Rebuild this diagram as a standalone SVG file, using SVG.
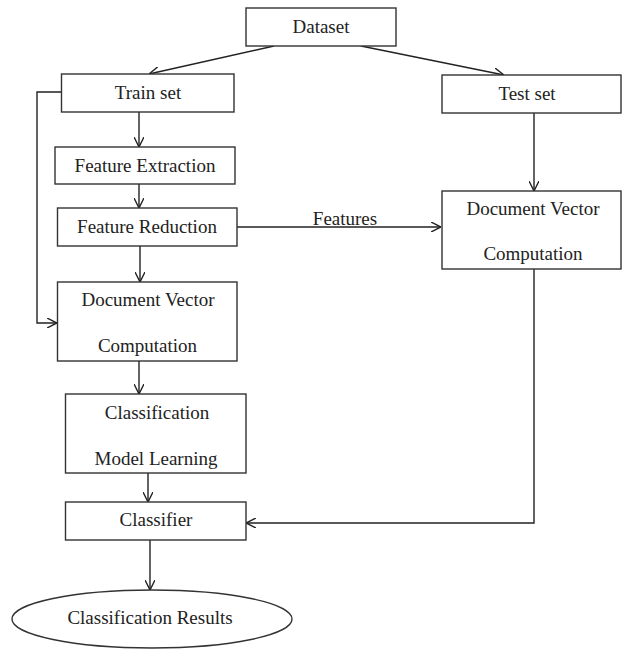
<svg xmlns="http://www.w3.org/2000/svg" width="622" height="650" viewBox="0 0 622 650">
<style>
.box{fill:#fff;stroke:#333;stroke-width:1.4}
.t{font-family:"Liberation Serif","Times New Roman",serif;font-size:19px;fill:#222;text-anchor:middle}
.c{fill:none;stroke:#222;stroke-width:1.4}
</style>
<defs>
<marker id="ah" viewBox="0 0 10 10" refX="10" refY="5" markerWidth="10" markerHeight="10" markerUnits="userSpaceOnUse" orient="auto">
<path d="M0,0 L10,5 L0,10" fill="none" stroke="#222" stroke-width="1.4"/>
</marker>
</defs>
<g id="connectors">
<line class="c" x1="274" y1="46" x2="149" y2="74" marker-end="url(#ah)"/>
<line class="c" x1="361" y1="46" x2="504" y2="75" marker-end="url(#ah)"/>
<line class="c" x1="139" y1="112" x2="139" y2="147" marker-end="url(#ah)"/>
<line class="c" x1="139" y1="184" x2="139" y2="208" marker-end="url(#ah)"/>
<line class="c" x1="140" y1="246" x2="140" y2="282" marker-end="url(#ah)"/>
<polyline class="c" points="61,92 37,92 37,323 57,323" marker-end="url(#ah)"/>
<line class="c" x1="237" y1="227" x2="441" y2="227" marker-end="url(#ah)"/>
<line class="c" x1="534" y1="113" x2="534" y2="191" marker-end="url(#ah)"/>
<line class="c" x1="139" y1="361" x2="139" y2="394" marker-end="url(#ah)"/>
<line class="c" x1="148" y1="468" x2="148" y2="502" marker-end="url(#ah)"/>
<polyline class="c" points="534,269 534,523 246,523" marker-end="url(#ah)"/>
<line class="c" x1="150" y1="540" x2="150" y2="590" marker-end="url(#ah)"/>
<text class="t" x="345" y="225">Features</text>
</g>
<g id="dataset"><rect class="box" x="246" y="8" width="150" height="38"/><text class="t" x="321" y="33">Dataset</text></g>
<g id="trainset"><rect class="box" x="61.5" y="74" width="172.5" height="38"/><text class="t" x="148" y="99">Train set</text></g>
<g id="testset"><rect class="box" x="442" y="75" width="179" height="38"/><text class="t" x="527" y="100">Test set</text></g>
<g id="featureextraction"><rect class="box" x="55" y="147" width="180" height="37"/><text class="t" x="145" y="172">Feature Extraction</text></g>
<g id="featurereduction"><rect class="box" x="57.5" y="208" width="179.5" height="38"/><text class="t" x="147" y="233">Feature Reduction</text></g>
<g id="docvec-train"><rect class="box" x="57.5" y="282" width="179.5" height="79"/><text class="t" x="148" y="306">Document Vector</text><text class="t" x="147.5" y="352">Computation</text></g>
<g id="docvec-test"><rect class="box" x="442" y="191" width="179" height="78"/><text class="t" x="533" y="215">Document Vector</text><text class="t" x="533" y="260">Computation</text></g>
<g id="classification"><rect class="box" x="65.5" y="394" width="180.5" height="79"/><text class="t" x="157" y="419">Classification</text><text class="t" x="156" y="465">Model Learning</text></g>
<g id="classifier"><rect class="box" x="65.5" y="502" width="180.5" height="38"/><text class="t" x="156" y="526">Classifier</text></g>
<g id="results"><ellipse class="box" cx="152" cy="619" rx="140" ry="29"/><text class="t" x="150" y="624">Classification Results</text></g>
</svg>
